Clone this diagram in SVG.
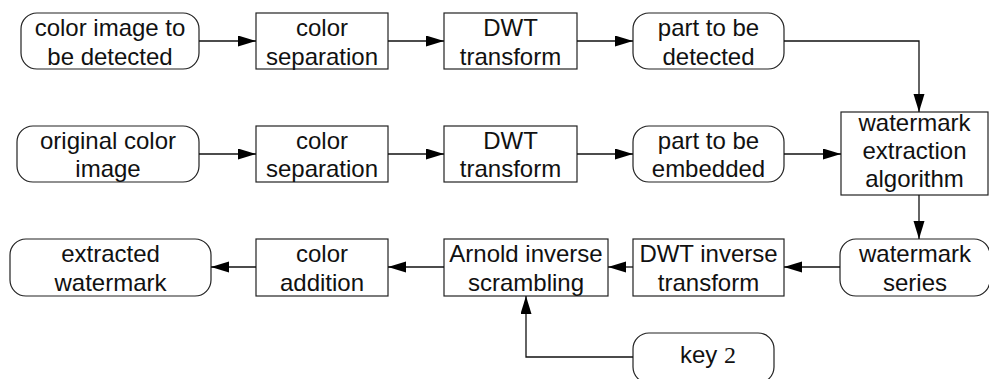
<svg xmlns="http://www.w3.org/2000/svg" width="989" height="379" viewBox="0 0 989 379">
  <style>
    .box { fill: #ffffff; stroke: #222222; stroke-width: 1.2; }
    .lbl { font-family: "Liberation Sans", Arial, sans-serif; font-size: 24px; fill: #111111; text-anchor: middle; }
    .num { font-family: "Liberation Serif", "Times New Roman", serif; }
    .edge { fill: none; stroke: #111111; stroke-width: 1.3; marker-end: url(#arrow); }
  </style>
  <defs>
    <marker id="arrow" markerUnits="userSpaceOnUse" markerWidth="18" markerHeight="12" refX="18" refY="5.5" orient="auto">
      <path d="M0,0 L18,5.5 L0,11 Z" fill="#000000"/>
    </marker>
  </defs>

  <!-- Row 1: image under test -->
  <g id="color-image-detected">
    <rect class="box" x="21" y="13" width="178" height="56" rx="16"/>
    <text class="lbl" x="110" y="36">color image to</text>
    <text class="lbl" x="110" y="65">be detected</text>
  </g>
  <g id="color-separation-1">
    <rect class="box" x="256" y="13" width="132" height="56"/>
    <text class="lbl" x="322" y="36">color</text>
    <text class="lbl" x="322" y="65">separation</text>
  </g>
  <g id="dwt-transform-1">
    <rect class="box" x="444" y="13" width="133" height="56"/>
    <text class="lbl" x="510.5" y="36">DWT</text>
    <text class="lbl" x="510.5" y="65">transform</text>
  </g>
  <g id="part-detected">
    <rect class="box" x="633" y="13" width="151" height="56" rx="16"/>
    <text class="lbl" x="708.5" y="36">part to be</text>
    <text class="lbl" x="708.5" y="65">detected</text>
  </g>

  <!-- Row 2: original image -->
  <g id="original-color-image">
    <rect class="box" x="17" y="126" width="182" height="56" rx="16"/>
    <text class="lbl" x="108" y="149">original color</text>
    <text class="lbl" x="108" y="177">image</text>
  </g>
  <g id="color-separation-2">
    <rect class="box" x="256" y="126" width="132" height="56"/>
    <text class="lbl" x="322" y="149">color</text>
    <text class="lbl" x="322" y="177">separation</text>
  </g>
  <g id="dwt-transform-2">
    <rect class="box" x="444" y="126" width="133" height="56"/>
    <text class="lbl" x="510.5" y="149">DWT</text>
    <text class="lbl" x="510.5" y="177">transform</text>
  </g>
  <g id="part-embedded">
    <rect class="box" x="633" y="126" width="151" height="56" rx="16"/>
    <text class="lbl" x="708.5" y="149">part to be</text>
    <text class="lbl" x="708.5" y="177">embedded</text>
  </g>
  <g id="extraction-algorithm">
    <rect class="box" x="841" y="112" width="147" height="83"/>
    <text class="lbl" x="914.5" y="131">watermark</text>
    <text class="lbl" x="914.5" y="159">extraction</text>
    <text class="lbl" x="914.5" y="187">algorithm</text>
  </g>

  <!-- Row 3: recovery -->
  <g id="watermark-series">
    <rect class="box" x="840" y="239" width="150" height="57" rx="16"/>
    <text class="lbl" x="915" y="262">watermark</text>
    <text class="lbl" x="915" y="291">series</text>
  </g>
  <g id="dwt-inverse">
    <rect class="box" x="633" y="239" width="151" height="57"/>
    <text class="lbl" x="708.5" y="262">DWT inverse</text>
    <text class="lbl" x="708.5" y="291">transform</text>
  </g>
  <g id="arnold-inverse">
    <rect class="box" x="444" y="239" width="164" height="57"/>
    <text class="lbl" x="526" y="262">Arnold inverse</text>
    <text class="lbl" x="526" y="291">scrambling</text>
  </g>
  <g id="color-addition">
    <rect class="box" x="256" y="239" width="132" height="57"/>
    <text class="lbl" x="322" y="262">color</text>
    <text class="lbl" x="322" y="291">addition</text>
  </g>
  <g id="extracted-watermark">
    <rect class="box" x="10" y="239" width="201" height="57" rx="16"/>
    <text class="lbl" x="110.5" y="262">extracted</text>
    <text class="lbl" x="110.5" y="291">watermark</text>
  </g>
  <g id="key-2">
    <rect class="box" x="633" y="333" width="141" height="50" rx="16"/>
    <text class="lbl" x="708" y="363">key <tspan class="num">2</tspan></text>
  </g>

  <!-- Connectors -->
  <g id="connectors">
    <path class="edge" d="M199,41 H256"/>
    <path class="edge" d="M388,41 H444"/>
    <path class="edge" d="M577,41 H633"/>
    <path class="edge" d="M784,41 H919 V112"/>
    <path class="edge" d="M199,154 H256"/>
    <path class="edge" d="M388,154 H444"/>
    <path class="edge" d="M577,154 H633"/>
    <path class="edge" d="M784,154 H841"/>
    <path class="edge" d="M919,195 V239"/>
    <path class="edge" d="M840,267 H784"/>
    <path class="edge" d="M633,267 H608"/>
    <path class="edge" d="M444,267 H388"/>
    <path class="edge" d="M256,267 H211"/>
    <path class="edge" d="M633,357 H526 V296"/>
  </g>
</svg>
